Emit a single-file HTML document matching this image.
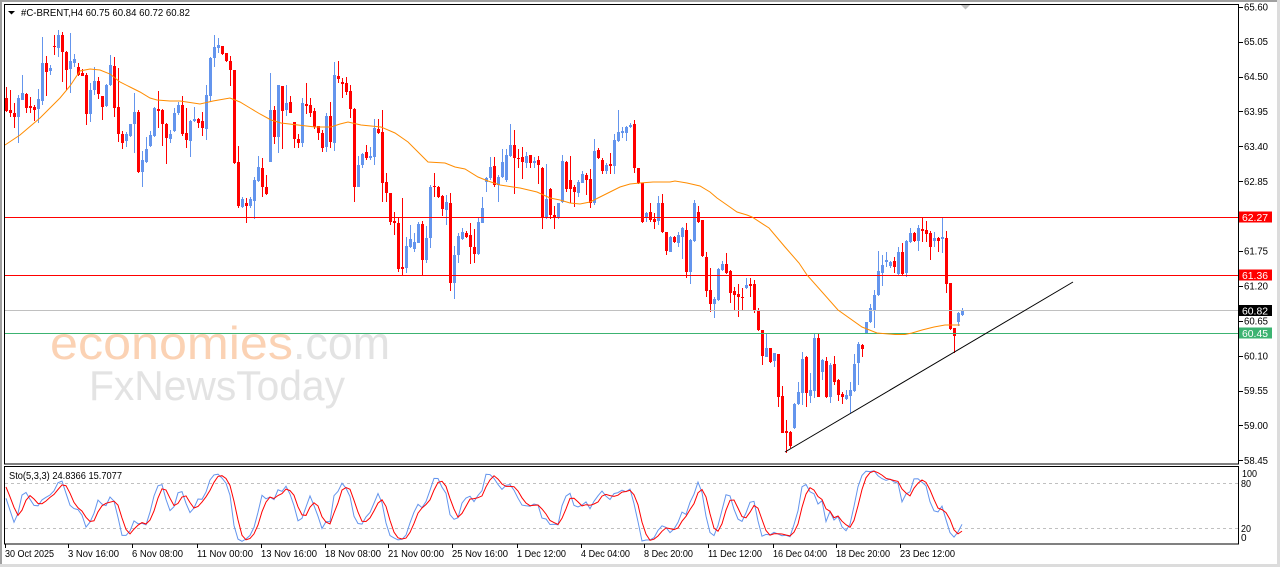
<!DOCTYPE html>
<html><head><meta charset="utf-8">
<style>
html,body{margin:0;padding:0;background:#fff;overflow:hidden;}
svg{display:block;font-family:"Liberation Sans",Arial,sans-serif;}
</style></head><body>
<svg id="c" width="1280" height="567" viewBox="0 0 1280 567" xmlns="http://www.w3.org/2000/svg">
<rect width="1280" height="567" fill="#fff"/>
<!-- outer window border -->
<rect x="0" y="0" width="1280" height="2" fill="#a0a0a0"/>
<rect x="0" y="0" width="2" height="567" fill="#a0a0a0"/>
<rect x="1277" y="0" width="3" height="567" fill="#dcdcdc"/>
<rect x="0" y="564" width="1280" height="3" fill="#dcdcdc"/>

<!-- watermark -->
<text x="50" y="359" font-size="46" fill="#fbd2b4" textLength="243" lengthAdjust="spacingAndGlyphs">economies</text>
<text x="293" y="359" font-size="46" fill="#e3e3e3" textLength="97" lengthAdjust="spacingAndGlyphs">.com</text>
<text x="89" y="400" font-size="42" fill="#e3e3e3" textLength="256" lengthAdjust="spacingAndGlyphs">FxNewsToday</text>

<g id="dyn" shape-rendering="crispEdges"></g>

<!-- horizontal levels -->
<g shape-rendering="crispEdges">
<line x1="5" y1="217.5" x2="1238" y2="217.5" stroke="#ff0000" stroke-width="1"/>
<line x1="5" y1="275.5" x2="1238" y2="275.5" stroke="#ff0000" stroke-width="1"/>
<line x1="5" y1="310.5" x2="1238" y2="310.5" stroke="#c0c0c0" stroke-width="1"/>
<line x1="5" y1="333.5" x2="1238" y2="333.5" stroke="#3cb371" stroke-width="1"/>
</g>
<g id="ma"></g>
<!-- trendline -->
<line x1="785" y1="452" x2="1073" y2="282" stroke="#000" stroke-width="1"/>

<!-- chart shift marker -->
<polygon points="961,5 970,5 965.5,9.5" fill="#c0c0c0"/>

<!-- frames -->
<g shape-rendering="crispEdges" fill="none" stroke="#000" stroke-width="1">
<rect x="4.5" y="4.5" width="1234" height="459.5"/>
<rect x="4.5" y="466.5" width="1234" height="77.5"/>
</g>
<!-- stoch levels -->
<g shape-rendering="crispEdges">
<line x1="5" y1="483.5" x2="1238" y2="483.5" stroke="#c0c0c0" stroke-dasharray="3,3"/>
<line x1="5" y1="528.5" x2="1238" y2="528.5" stroke="#c0c0c0" stroke-dasharray="3,3"/>
</g>
<g id="sto"></g>

<!-- title -->
<polygon points="8,11 15,11 11.5,14.5" fill="#000"/>
<text x="21" y="16" font-size="10.5" fill="#000" textLength="169" lengthAdjust="spacingAndGlyphs">#C-BRENT,H4  60.75 60.84 60.72 60.82</text>
<text x="9" y="479" font-size="10.5" fill="#000" textLength="113" lengthAdjust="spacingAndGlyphs">Sto(5,3,3) 24.8366 15.7077</text>

<!-- price axis -->
<g id="pax" font-size="10" fill="#000"></g>

<!-- level boxes -->
<rect x="1239" y="211.5" width="33" height="11" fill="#ff0000"/>
<text x="1242" y="221" font-size="10" fill="#fff" textLength="26" lengthAdjust="spacingAndGlyphs">62.27</text>
<rect x="1239" y="269.5" width="33" height="11" fill="#ff0000"/>
<text x="1242" y="279" font-size="10" fill="#fff" textLength="26" lengthAdjust="spacingAndGlyphs">61.36</text>
<rect x="1239" y="305" width="33" height="11" fill="#000"/>
<text x="1242" y="314.5" font-size="10" fill="#fff" textLength="26" lengthAdjust="spacingAndGlyphs">60.82</text>
<rect x="1239" y="327.5" width="33" height="11" fill="#3cb371"/>
<text x="1242" y="337" font-size="10" fill="#fff" textLength="26" lengthAdjust="spacingAndGlyphs">60.45</text>

<!-- stoch axis -->
<g font-size="10" fill="#000">
<text x="1242" y="477" textLength="15" lengthAdjust="spacingAndGlyphs">100</text>
<text x="1241" y="487" textLength="10" lengthAdjust="spacingAndGlyphs">80</text>
<text x="1241" y="532" textLength="10" lengthAdjust="spacingAndGlyphs">20</text>
<text x="1241" y="541">0</text>
</g>
<g id="tax" font-size="10" fill="#000"></g>
</svg>
<script>
const raw=`r 98 111 87 112
r 110 113 90 117
r 113 117 103 128
b 98 117 95 143
b 93 100 75 100
r 94 108 93 113
r 106 108 97 113
r 107 110 105 121
b 99 109 89 123
b 63 101 37 105
r 63 72 56 96
b 68 71 65 75
r 46 47 35 55
b 35 48 30 57
r 35 52 32 82
r 52 70 51 90
b 61 69 33 93
b 59 63 54 67
r 67 75 63 76
r 73 76 69 76
r 75 114 73 125
b 90 114 83 122
b 81 90 67 95
r 81 94 77 99
r 96 107 96 120
b 85 106 84 107
b 65 85 55 86
r 66 108 57 117
r 107 134 68 142
r 134 143 131 149
b 134 141 132 147
b 124 136 124 137
b 112 124 93 153
r 112 172 110 173
b 160 172 151 187
b 149 162 137 163
b 135 146 131 147
b 108 136 107 137
r 109 111 91 128
r 110 124 109 146
r 124 138 123 164
b 134 139 130 143
b 113 131 108 132
b 105 113 102 115
r 105 134 96 136
r 133 140 108 148
b 121 141 120 157
b 119 121 107 122
r 119 123 118 128
r 121 128 112 136
b 95 129 85 140
b 58 96 57 102
b 47 58 35 67
b 45 48 38 53
r 46 54 46 55
r 53 61 53 62
r 61 70 56 86
r 70 163 70 164
r 162 206 146 208
b 199 207 197 208
r 203 206 198 223
b 199 206 197 208
b 180 201 177 219
b 167 181 156 182
r 168 187 158 197
r 187 194 175 195
b 110 162 73 162
r 110 137 106 144
b 85 137 85 153
r 86 111 86 149
b 103 110 85 116
r 102 113 96 113
r 122 139 122 148
r 139 143 134 148
b 103 143 98 147
r 104 106 83 114
r 105 113 98 117
r 111 127 108 129
r 126 133 126 140
r 133 148 130 152
b 116 147 113 152
r 116 142 102 148
b 75 143 62 151
r 76 79 61 83
r 82 84 78 98
r 83 92 77 95
r 91 109 85 118
r 109 187 108 202
b 165 187 156 187
b 154 165 153 168
r 152 158 145 160
b 156 158 147 160
b 128 157 119 165
r 129 133 119 134
r 132 183 110 202
r 182 193 173 202
r 193 222 193 225
r 221 223 212 235
r 223 269 217 272
r 267 269 198 275
b 246 268 237 273
b 239 247 225 248
b 242 249 233 252
b 224 243 222 243
r 224 260 221 275
b 238 260 226 263
b 187 238 185 248
r 186 187 173 197
r 187 197 186 198
r 196 209 195 216
b 202 210 195 225
r 203 283 193 291
b 255 283 246 299
b 236 255 233 263
b 232 239 228 240
r 233 237 231 238
r 235 247 223 264
r 247 254 229 263
b 222 254 218 255
b 208 223 197 223
b 178 182 177 192
b 167 178 157 180
r 166 185 157 187
b 177 185 175 202
b 162 177 149 178
b 155 180 149 182
b 145 156 124 157
r 145 158 130 194
r 158 159 149 168
r 157 162 147 179
b 156 163 152 168
r 155 163 155 168
b 161 163 157 168
r 160 165 156 184
r 168 217 167 229
b 199 218 164 219
r 189 215 188 219
r 215 217 206 229
b 203 218 203 219
b 161 202 155 203
r 162 189 161 192
r 180 189 156 203
r 187 192 185 207
b 182 193 180 197
b 174 183 171 183
r 175 180 173 195
r 179 203 169 208
b 151 203 139 205
r 150 158 148 159
r 160 171 158 174
b 165 171 163 174
r 164 166 153 174
b 140 166 134 174
b 132 141 110 142
b 131 133 127 138
b 127 133 126 141
b 125 127 123 128
r 124 168 120 173
r 168 183 168 184
r 183 222 183 223
b 213 217 212 222
r 212 220 203 222
r 219 222 213 229
b 203 221 196 225
r 203 232 194 233
r 232 251 232 255
b 237 252 236 252
r 237 242 236 243
b 235 243 232 247
b 228 237 227 259
r 230 272 223 278
b 240 272 239 284
b 203 241 200 242
r 212 222 206 223
r 220 256 220 257
r 257 291 252 297
r 290 304 268 312
b 299 304 297 318
b 269 300 268 301
b 264 270 261 271
r 264 273 253 274
r 271 293 270 303
r 291 295 287 310
r 294 297 284 317
r 297 298 288 310
b 285 288 278 289
r 284 286 278 297
r 284 310 280 313
r 310 330 308 331
r 330 356 330 365
b 348 357 333 357
r 348 362 348 363
b 353 361 353 367
r 354 397 354 407
r 396 433 386 433
r 431 433 420 453
r 432 446 431 448
b 404 428 403 429
b 392 404 382 405
b 359 393 352 405
r 357 393 356 407
b 390 396 373 403
b 338 391 333 398
r 338 397 333 397
b 360 372 359 380
r 361 397 357 398
b 365 397 363 403
r 364 382 356 385
r 380 395 379 401
r 394 397 392 404
b 395 399 390 400
b 390 396 382 413
b 364 391 354 392
b 344 363 342 385
r 345 349 344 357
b 322 333 322 334
b 308 322 304 323
b 295 310 290 328
b 271 295 251 296
b 265 273 255 286
b 260 262 252 267
b 262 266 261 268
r 261 267 257 273
b 252 274 247 275
r 252 274 243 275
b 241 273 240 277
b 233 242 228 243
r 233 241 232 242
b 228 241 225 251
r 229 231 217 242
r 230 234 221 242
r 233 247 231 260
b 238 241 232 247
r 238 241 237 252
b 237 239 217 253
r 238 284 231 293
r 283 329 283 330
r 328 336 328 353
b 313 322 312 326
b 310 315 308 316`;
const bars=raw.trim().split('\n').map(l=>{const p=l.trim().split(/\s+/);return {c:p[0],bt:+p[1],bb:+p[2],wt:+p[3],wb:+p[4]};});
let s='';
bars.forEach((b,i)=>{
  const col=b.c==='b'?'#6495ED':'#FF0000';
  const x=5+4*i;
  s+=`<rect x="${x+1}" y="${b.wt}" width="1" height="${Math.max(1,b.wb-b.wt)}" fill="${col}"/>`;
  s+=`<rect x="${x}" y="${b.bt}" width="3" height="${Math.max(1,b.bb-b.bt)}" fill="${col}"/>`;
});
document.getElementById('dyn').innerHTML=s;

// MA
const ma=[[5,145],[20,135],[40,118],[60,98],[70,86],[80,71],[90,69],[100,70],[110,74],[120,82],[130,87],[140,92],[150,98],[157,100],[170,101],[180,101],[200,104],[213,101],[230,98],[240,102],[250,108],[260,114],[271,120],[281,123],[298,125],[315,127],[331,127],[340,124],[348,122],[361,125],[381,127],[395,133],[408,142],[418,152],[428,162],[445,163],[455,167],[465,169],[478,177],[488,181],[500,185],[520,188],[537,192],[550,198],[560,200],[570,203],[580,204],[590,202],[600,197],[610,192],[620,187],[630,184],[640,183],[653,182],[670,182],[675,181],[687,183],[700,186],[710,192],[717,198],[727,205],[737,212],[747,215],[752,217],[769,228],[785,247],[799,263],[807,275],[838,310],[862,327],[877,333],[895,334.5],[905,334.5],[912,333],[922,330],[934,327],[945,325],[960,325]];
document.getElementById('ma').innerHTML=`<polyline points="${ma.map(p=>p.join(',')).join(' ')}" fill="none" stroke="#FF8C00" stroke-width="1"/>`;

// Stochastic
const n=bars.length, cl=bars.map(b=>b.c==='b'?b.bt:b.bb);
const num=[],den=[],K=[],Dd=[];
for(let i=0;i<n;i++){let LL=-1e9,HH=1e9;for(let j=Math.max(0,i-4);j<=i;j++){LL=Math.max(LL,bars[j].wb);HH=Math.min(HH,bars[j].wt);}num.push(LL-cl[i]);den.push(LL-HH);}
for(let i=0;i<n;i++){let a=0,d=0;for(let j=Math.max(0,i-2);j<=i;j++){a+=num[j];d+=den[j];}K.push(d?100*a/d:50);}
const Kov=[60,44,28,40];for(let i=0;i<Kov.length;i++)K[i]=Kov[i];
for(let i=0;i<n;i++){let a=0,c=0;for(let j=Math.max(0,i-2);j<=i;j++){a+=K[j];c++;}Dd.push(a/c);}
Dd[0]=75;Dd[1]=62;Dd[2]=48;
const yv=v=>(543.3-0.75*Math.max(0,Math.min(100,v))).toFixed(1);
const kp=K.map((v,i)=>`${6+4*i},${yv(v)}`).join(' ');
const dp=Dd.map((v,i)=>`${6+4*i},${yv(v)}`).join(' ');
document.getElementById('sto').innerHTML=`<polyline points="${kp}" fill="none" stroke="#6495ED" stroke-width="1"/><polyline points="${dp}" fill="none" stroke="#FF0000" stroke-width="1"/>`;

// price axis
const pl=[["65.60",0],["65.05",1],["64.50",2],["63.95",3],["63.40",4],["62.85",5],["61.75",7],["61.20",8],["60.65",9],["60.10",10],["59.55",11],["59.00",12],["58.45",13]];
let ps='';
pl.forEach(([t,k])=>{const y=6.7+k*34.9;ps+=`<rect x="1239" y="${Math.round(y)}" width="4" height="1" fill="#000"/><text x="1244" y="${(y+3.6).toFixed(1)}" textLength="24" lengthAdjust="spacingAndGlyphs">${t}</text>`;});
document.getElementById('pax').innerHTML=ps;

// time axis
const tl=[["30 Oct 2025",5,49],["3 Nov 16:00",68,51],["6 Nov 08:00",132,51],["11 Nov 00:00",197,56],["13 Nov 16:00",261,56],["18 Nov 08:00",325,56],["21 Nov 00:00",388,56],["25 Nov 16:00",452,56],["1 Dec 12:00",517,49],["4 Dec 04:00",581,49],["8 Dec 20:00",644,49],["11 Dec 12:00",708,54],["16 Dec 04:00",773,54],["18 Dec 20:00",836,54],["23 Dec 12:00",900,55]];
let ts='';
tl.forEach(([t,x,w])=>{ts+=`<rect x="${x}" y="544" width="1" height="4" fill="#000"/><text x="${x}" y="557" textLength="${w}" lengthAdjust="spacingAndGlyphs">${t}</text>`;});
document.getElementById('tax').innerHTML=ts;
</script>
</body></html>
